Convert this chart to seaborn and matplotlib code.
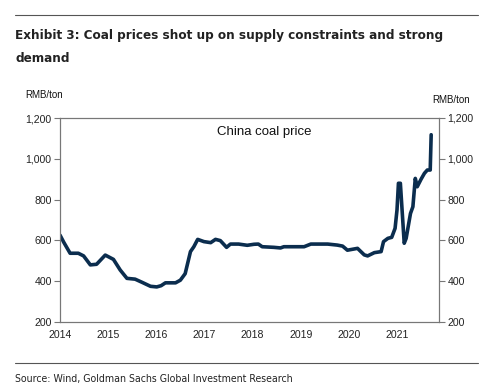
import matplotlib
matplotlib.use("Agg")
import matplotlib.pyplot as plt
import seaborn as sns
import pandas as pd
from matplotlib.ticker import FuncFormatter
from matplotlib import font_manager

# Data (decimal year, RMB/ton)
years = [2014.00, 2014.08, 2014.21, 2014.38, 2014.49, 2014.63, 2014.76, 2014.94,
         2015.11, 2015.25, 2015.39, 2015.56, 2015.70, 2015.88, 2016.01, 2016.10,
         2016.19, 2016.40, 2016.50, 2016.60, 2016.71, 2016.78, 2016.86, 2016.99,
         2017.13, 2017.23, 2017.33, 2017.46, 2017.54, 2017.71, 2017.89, 2018.03,
         2018.12, 2018.20, 2018.44, 2018.58, 2018.65, 2019.07, 2019.21, 2019.56,
         2019.76, 2019.87, 2019.97, 2020.11, 2020.18, 2020.25, 2020.32, 2020.39,
         2020.53, 2020.67, 2020.72, 2020.81, 2020.89, 2020.96, 2021.00, 2021.03,
         2021.07, 2021.15, 2021.19, 2021.28, 2021.33, 2021.38, 2021.42, 2021.50,
         2021.57, 2021.63, 2021.69, 2021.71]
price = [626, 590, 537, 537, 524, 480, 483, 528,
         507, 455, 414, 410, 395, 375, 372, 378,
         392, 392, 405, 437, 545, 569, 605, 594,
         589, 605, 599, 566, 582, 582, 576, 581,
         582, 569, 566, 563, 569, 569, 582, 582,
         577, 572, 552, 558, 561, 545, 529, 524,
         540, 545, 594, 610, 615, 659, 749, 880,
         880, 586, 610, 732, 765, 904, 863, 900,
         929, 945, 945, 1118]

xticks = [2014, 2015, 2016, 2017, 2018, 2019, 2020, 2021]
yticks = [200, 400, 600, 800, 1000, 1200]

title_lines = ["Exhibit 3: Coal prices shot up on supply constraints and strong",
               "demand"]
source = "Source: Wind, Goldman Sachs Global Investment Research"

sns.set_style("white")
plt.rcParams['font.family'] = ['Liberation Sans', 'DejaVu Sans']

names = {f.name for f in font_manager.fontManager.ttflist}
cond = [f for f in font_manager.fontManager.ttflist
        if f.name == "DejaVu Sans" and f.stretch == "condensed"]
if "Liberation Sans Narrow" in names:
    narrow = dict(family=["Liberation Sans Narrow", "DejaVu Sans"])
    tsize, ssize = 12.5, 8.5
elif cond:
    narrow = dict(family=["DejaVu Sans"], fontstretch="condensed")
    tsize, ssize = 9.65, 7.6
else:
    narrow = dict(family=["Liberation Sans", "DejaVu Sans"])
    tsize, ssize = 9.3, 7.6

df = pd.DataFrame({"year": years, "price": price})

fig = plt.figure(figsize=(4.91, 3.91), dpi=100)
ax = fig.add_axes([60/491, 1-322/391, (439-60)/491, (322-118)/391])

sns.lineplot(data=df, x="year", y="price", ax=ax, color="#0b2d4e",
             linewidth=2.6, estimator=None, sort=False)

ax.set_xlim(2014, 2021 + (439-397)/48.14)
ax.set_ylim(200, 1200)
ax.set_xticks(xticks)
ax.set_xticklabels([str(x) for x in xticks])
ax.set_yticks(yticks)
fmt = FuncFormatter(lambda v, p: f"{int(v):,}")
ax.yaxis.set_major_formatter(fmt)
ax.set_xlabel("")
ax.set_ylabel("")
for s in ax.spines.values():
    s.set_color("#777777")
    s.set_linewidth(0.8)
ax.tick_params(axis="both", labelsize=7.6, colors="#222222", length=4,
               width=0.8, direction="out", color="#777777", pad=2)

ax2 = ax.twinx()
ax2.set_ylim(200, 1200)
ax2.set_yticks(yticks)
ax2.yaxis.set_major_formatter(fmt)
ax2.tick_params(axis="y", labelsize=7.6, colors="#222222", length=4,
                width=0.8, direction="out", color="#777777", pad=2)
for s in ax2.spines.values():
    s.set_color("#777777")
    s.set_linewidth(0.8)

ax.text(0.54, 0.93, "China coal price", transform=ax.transAxes, fontsize=9.5,
        color="#111111", va="center", ha="center")

fig.text(25/491, 1-95/391, "RMB/ton", fontsize=7, color="#111111", va="center")
fig.text(470/491, 1-100/391, "RMB/ton", fontsize=7, color="#111111", va="center", ha="right")

for i, line in enumerate(title_lines):
    fig.text(15/491, 1-(36 + 23*i)/391, line, fontsize=tsize, fontweight="bold",
             color="#222222", va="center", **narrow)
fig.text(15/491, 1-379/391, source, fontsize=ssize,
         color="#222222", va="center", **narrow)

fig.add_artist(plt.Line2D([15/491, 478/491], [1-15/391, 1-15/391],
                          color="#555555", linewidth=0.8))
fig.add_artist(plt.Line2D([15/491, 478/491], [1-363/391, 1-363/391],
                          color="#555555", linewidth=0.8))

fig.savefig("out.png", dpi=100)
